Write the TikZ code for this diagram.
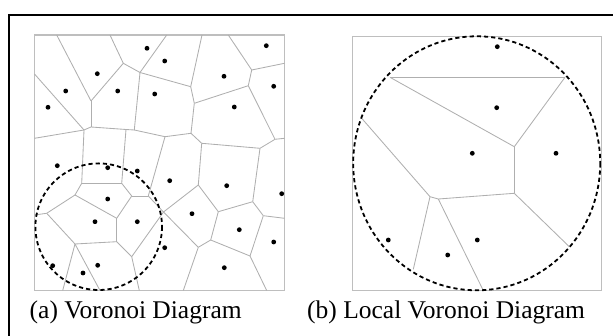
\documentclass[tikz,border=0pt]{standalone}
\usepackage{fontspec}
\setmainfont{Liberation Serif}
\newfontfamily\capfont{Liberation Serif}
\definecolor{edgegray}{RGB}{175,175,175}
\definecolor{boxgray}{RGB}{190,190,190}
\tikzset{
  vedge/.style={draw=edgegray, line width=0.85pt},
  sqbox/.style={draw=boxgray, line width=1.2pt},
  seed/.style={fill=black},
  dashring/.style={draw=black, line width=1.8pt, dash pattern=on 4.2pt off 3pt},
  frameline/.style={draw=black, line width=2pt},
  captxt/.style={anchor=base west, inner sep=0pt, font=\capfont\fontsize{25.5}{30}\selectfont}
}
\begin{document}
\begin{tikzpicture}[x=1pt,y=-1pt]
\useasboundingbox (0,0) rectangle (613,336);
% outer frame (top and left visible)
\draw[frameline] (613,15) -- (9,15) -- (9,336);

% ---------- left panel ----------
\draw[sqbox] (34.5,35) rectangle (284.5,290.5);
\foreach \n/\p in {T1/{56.7,35},T2/{110,35},T3/{166.7,35},T4/{202,35},T5/{228.3,35},
  L1/{34.5,74},L2/{34.5,138.3},L3/{34.5,215},
  R1/{284.5,63.3},R2/{284.5,138.3},R3/{284.5,218.3},
  B1/{62.7,290.5},B2/{100,290.5},B3/{139.3,290.5},B4/{183.3,290.5},B5/{266.7,290.5},
  V1/{91,101},V2/{84,130},V3/{91,127},V4/{123.3,63.3},V5/{140,72.5},V6a/{126,129.5},
  V6/{134.3,130},V7/{165,136.7},V8/{191,133.3},V9/{190.7,86.7},V10/{194.3,103.3},
  V11/{248.3,85.7},V12/{251.7,70},V13/{275,139.3},V14/{260,148.3},V15/{201.7,143.3},
  V16/{81.7,183.3},V17/{121.7,183.3},V18/{75,195},V19/{131.7,196},V20/{148.3,196},
  V21/{46.7,213.3},V22/{116.7,218.3},V23/{116.7,241.7},V24/{75,244},V25/{131.7,256.7},
  V26/{163.5,212},V27/{198.3,185},V28/{218.3,211.7},V29/{252.7,201.7},V30/{263.3,215.7},
  V31/{250,256},V32/{210.7,240},V33/{198.3,247.3}}
  {\coordinate (\n) at (\p);}
\foreach \a/\b in {T1/V1,V1/V3,V3/V2,L1/V2,L2/V2,V1/V4,T2/V4,V4/V5,V5/T3,V5/V6,
  V3/V6a,V6a/V6,V6/V7,V7/V8,V5/V9,V9/T4,V9/V10,V10/V8,V10/V11,V11/V12,V12/T5,V12/R1,
  V11/V13,V13/R2,V13/V14,V14/V15,V15/V8,
  V2/V16,V6a/V17,V16/V17,V16/V18,V17/V19,V19/V20,V7/V20,V18/V21,V21/L3,V18/V22,V19/V22,
  V22/V23,V21/V24,V24/V23,V23/V25,V20/V26,V26/V27,V15/V27,V27/V28,V28/V29,V29/V14,
  V29/V30,V30/R3,V30/V31,V31/B5,V31/V32,V32/V28,V32/V33,V33/B4,V26/V33,V26/V25,V25/B3,
  V24/B1,V24/B2}
  {\draw[vedge] (\a) -- (\b);}
\foreach \p in {{147,48.3},{164.7,61},{266.3,45.7},{97.3,73.7},{65.7,91},{117.7,91},
  {154.7,94},{48,107.3},{224,76.3},{273.7,86.3},{234.3,107},{57.3,165.7},{107.7,167.7},
  {137.3,171},{169.7,180.7},{226.7,185.7},{281.7,193.7},{107.7,199},{95,221.7},
  {137.3,221.7},{192,213.7},{239.3,229.7},{273.7,242},{164.7,247.7},{52.7,265.7},
  {97.7,265.3},{83,273},{224.3,267.7}}
  {\fill[seed] (\p) circle (2.4);}
\draw[dashring] (98.7,226.7) circle (63.3);
\node[captxt] (capa) at (29.5,319) {(a) Voronoi Diagram};

% ---------- right panel ----------
\draw[sqbox] (352.7,36.5) rectangle (601.2,290.5);
\foreach \n/\p in {W1/{390,77.3},W2/{565,77.3},W3/{514.3,146.7},W4/{514.3,193.3},
  W5/{438.3,199},W6/{430,196.7},W7/{361.7,118.3},W8/{413.3,269.3},W9/{482.7,289.3},
  W10/{569.3,246.7}}
  {\coordinate (\n) at (\p);}
\foreach \a/\b in {W1/W2,W1/W3,W2/W3,W3/W4,W4/W5,W5/W6,W6/W7,W6/W8,W5/W9,W4/W10}
  {\draw[vedge] (\a) -- (\b);}
\foreach \p in {{497.3,46.7},{496.7,107.7},{472.3,153.3},{556,153.3},{388.3,240},
  {477.3,240},{447.7,255}}
  {\fill[seed] (\p) circle (2.4);}
\draw[dashring] (476.7,163.3) ellipse [x radius=123.5, y radius=127];
\node[captxt] (capb) at (307,319) {(b) Local Voronoi Diagram};
\end{tikzpicture}
\end{document}
